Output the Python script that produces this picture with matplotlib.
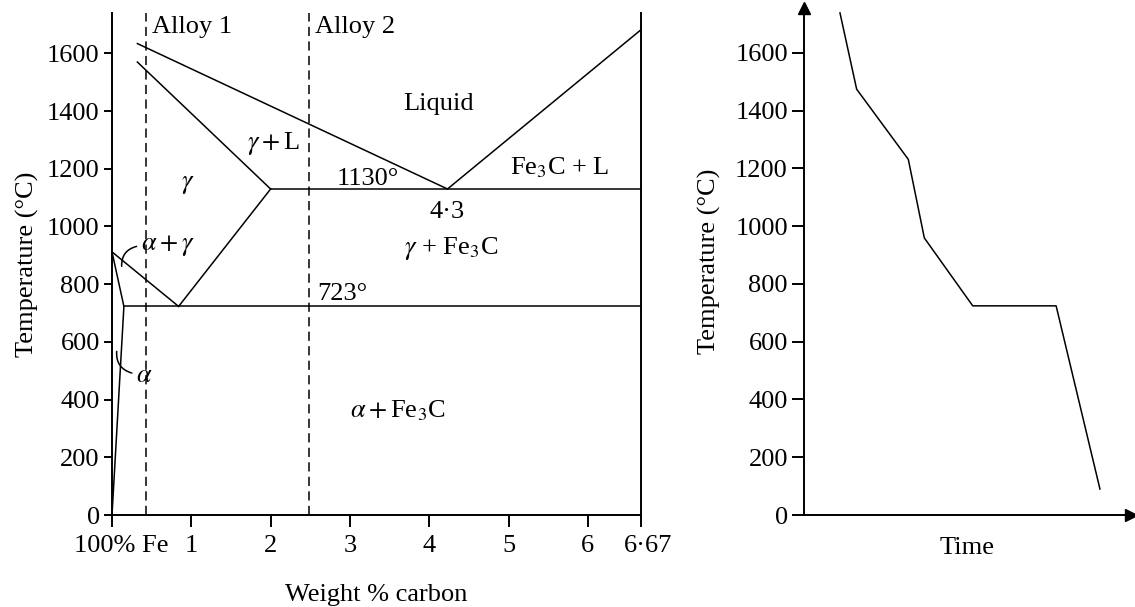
import matplotlib
matplotlib.use("Agg")
import matplotlib.pyplot as plt
import matplotlib.transforms as mtransforms

plt.rcParams['font.family'] = ['Liberation Serif', 'DejaVu Serif']
plt.rcParams['mathtext.fontset'] = 'stix'
plt.rcParams['font.size'] = 19

# phase boundaries : weight % carbon / temperature (C)
liquidus_c = [0.32, 4.23, 6.67]
liquidus_t = [1634, 1130, 1682]
solidus_c = [0.32, 2.0]
solidus_t = [1570, 1130]
eutectic_c = [2.0, 6.67]
eutectic_t = [1130, 1130]
acm_c = [2.0, 0.84]
acm_t = [1130, 723]
a3_c = [0.0, 0.84]
a3_t = [912, 723]
eutectoid_c = [0.15, 6.67]
eutectoid_t = [723, 723]
alpha_c = [0.0, 0.15, 0.0]
alpha_t = [912, 723, 0]

alloy_c = [0.43, 2.48]
alloy_names = ['Alloy 1', 'Alloy 2']

xtick_pos = [0, 1, 2, 3, 4, 5, 6, 6.67]
xtick_lab = ['100% Fe', '1', '2', '3', '4', '5', '6', '6·67']
ytick_pos = [0, 200, 400, 600, 800, 1000, 1200, 1400, 1600]

# cooling curve (time in arbitrary units)
time = [11.0, 16.1, 31.9, 36.8, 51.6, 77.1, 90.5]
temp = [1738, 1474, 1231, 959, 724, 724, 90]

lw = 1.1
W, H = 1135, 607
fig = plt.figure(figsize=(W / 100, H / 100), dpi=100)

# ---- phase diagram
ax = fig.add_axes([112 / W, 92 / H, 529 / W, 502 / H])
for c, t in [(liquidus_c, liquidus_t), (solidus_c, solidus_t), (eutectic_c, eutectic_t),
             (acm_c, acm_t), (a3_c, a3_t), (eutectoid_c, eutectoid_t), (alpha_c, alpha_t)]:
    ax.plot(c, t, color='black', lw=lw)
ax.set_xlim(0, 6.67)
ax.set_ylim(0, 1740)
for c, name in zip(alloy_c, alloy_names):
    ax.plot([c, c], [0, 1740], color='black', lw=lw, dashes=(6, 3.5))
    ax.text(c + 0.075, 1692, name, ha='left', va='center')

ax.spines['top'].set_visible(False)
for s in ['left', 'right', 'bottom']:
    ax.spines[s].set_linewidth(1.4)
ax.set_xticks(xtick_pos, xtick_lab)
ax.set_yticks(ytick_pos)
ax.tick_params(axis='x', direction='out', length=8.6, width=1.4, pad=6)
ax.tick_params(axis='y', direction='out', length=5.8, width=1.4, pad=3)
labs = ax.get_xticklabels()
for lab, dx in [(labs[0], 9), (labs[-1], 7)]:
    lab.set_transform(lab.get_transform() + mtransforms.ScaledTranslation(dx / 100, 0, fig.dpi_scale_trans))
ax.set_xlabel('Weight % carbon', labelpad=19)
ax.set_ylabel('Temperature (°C)', labelpad=6)

ax.text(4.12, 1405, 'Liquid', ha='center', va='baseline')
ax.text(5.64, 1180, r'Fe$_3$C + L', ha='center', va='baseline')
ax.text(4.22, 1030, '4·3', ha='center', va='baseline')
ax.text(4.27, 903, r'$\gamma$ + Fe$_3$C', ha='center', va='baseline')
ax.text(3.23, 1145, '1130°', ha='center', va='baseline')
ax.text(2.04, 1270, r'$\gamma + $L', ha='center', va='baseline')
ax.text(0.96, 1135, r'$\gamma$', ha='center', va='baseline')
ax.text(0.70, 920, r'$\alpha + \gamma$', ha='center', va='baseline')
ax.text(2.9, 746, '723°', ha='center', va='baseline')
ax.text(0.41, 462, r'$\alpha$', ha='center', va='baseline')
ax.text(3.6, 337, r'$\alpha + $Fe$_3$C', ha='center', va='baseline')

ax.annotate('', xy=(0.122, 862), xytext=(0.31, 931),
            arrowprops=dict(arrowstyle='-', lw=lw, shrinkA=0, shrinkB=0,
                            connectionstyle='arc3,rad=0.4'))
ax.annotate('', xy=(0.059, 567), xytext=(0.25, 492),
            arrowprops=dict(arrowstyle='-', lw=lw, shrinkA=0, shrinkB=0,
                            connectionstyle='arc3,rad=-0.4'))

# ---- cooling curve
ax2 = fig.add_axes([804 / W, 92 / H, 327 / W, 507 / H])
ax2.plot(time, temp, color='black', lw=lw)
ax2.set_xlim(0, 100)
ax2.set_ylim(0, 1755)
ax2.spines['top'].set_visible(False)
ax2.spines['right'].set_visible(False)
ax2.spines['left'].set_linewidth(1.4)
ax2.spines['bottom'].set_linewidth(1.4)
ax2.set_xticks([])
ax2.set_yticks(ytick_pos)
ax2.tick_params(axis='y', direction='out', length=8.6, width=1.4, pad=3)
ax2.plot(1, 0, '>k', ms=8, transform=ax2.transAxes, clip_on=False)
ax2.plot(0, 1, '^k', ms=8, transform=ax2.transAxes, clip_on=False)
ax2.set_xlabel('Time', labelpad=16)
ax2.set_ylabel('Temperature (°C)', labelpad=10)

fig.savefig('out.png', dpi=100)
